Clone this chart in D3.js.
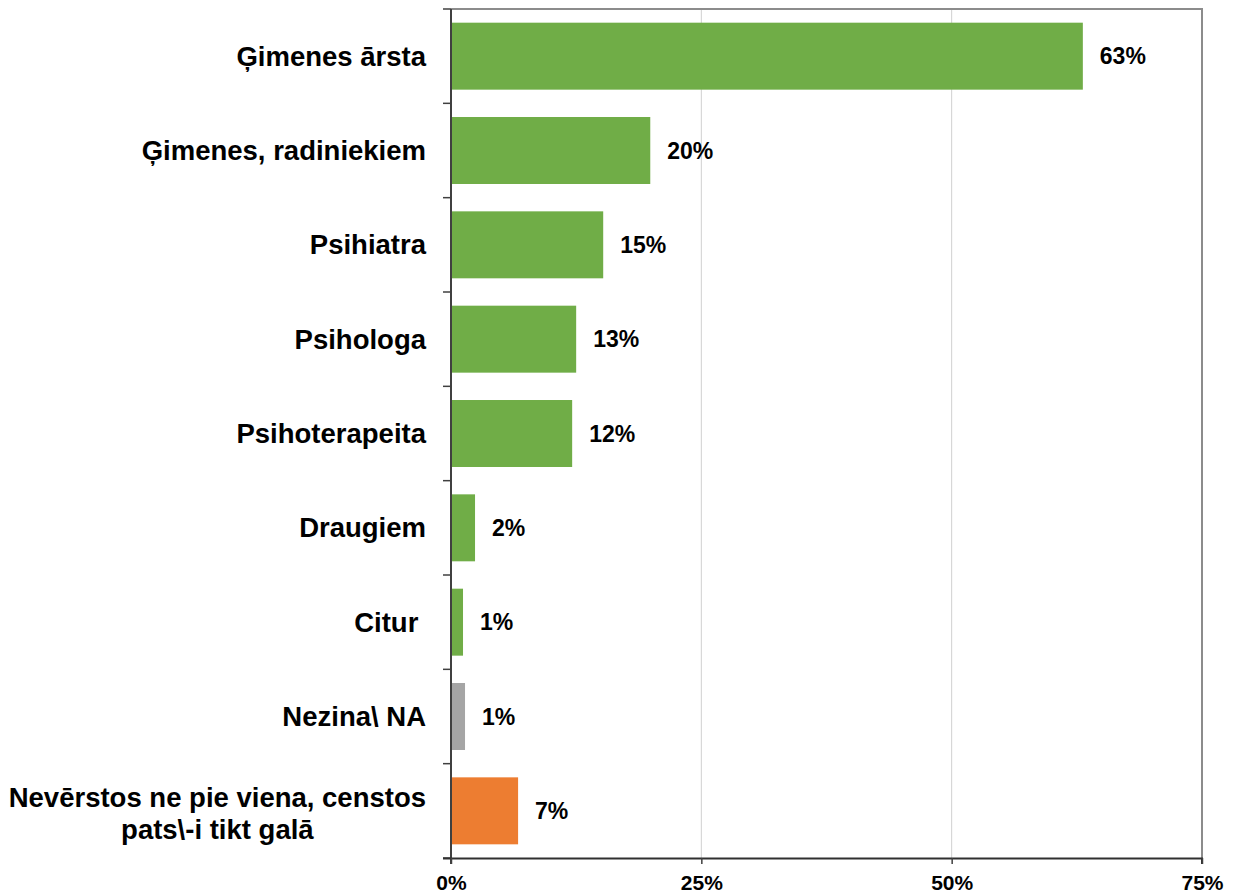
<!DOCTYPE html>
<html><head><meta charset="utf-8">
<script src="https://cdn.jsdelivr.net/npm/d3@7"></script>
<style>body{margin:0;background:#fff;} text{font-family:"Liberation Sans",Arial,sans-serif;font-weight:bold;fill:#000;}</style>
</head><body>
<svg id="chart" width="1234" height="896"></svg>
<script>
const categories = ["Ģimenes ārsta","Ģimenes, radiniekiem","Psihiatra","Psihologa","Psihoterapeita","Draugiem","Citur ","Nezina\\ NA","Nevērstos ne pie viena, censtos|pats\\-i tikt galā"];
const values = [63.1, 19.9, 15.2, 12.5, 12.1, 2.4, 1.2, 1.4, 6.7];
const valueLabels = ["63%","20%","15%","13%","12%","2%","1%","1%","7%"];
const barColors = ["#70AD47","#70AD47","#70AD47","#70AD47","#70AD47","#70AD47","#70AD47","#A5A5A5","#ED7D31"];
const xTicks = [0, 25, 50, 75];

const svg = d3.select("#chart");
const L = 451, R = 1202, T = 9, B = 858;
const x = d3.scaleLinear().domain([0, 75]).range([L, R]);
const y = d3.scaleBand().domain(categories).range([T, B]).paddingInner(0.29).paddingOuter(0.145);

// gridlines
svg.append("g").selectAll("line").data(xTicks.slice(1, 3)).join("line")
  .attr("x1", d => x(d)).attr("x2", d => x(d)).attr("y1", T).attr("y2", B)
  .attr("stroke", "#d0d0d0").attr("stroke-width", 1);
// top & right border
svg.append("path").attr("d", `M${L},${T}H${R}V${B}`).attr("fill", "none").attr("stroke", "#8c8c8c").attr("stroke-width", 2);

// bars
svg.append("g").selectAll("rect").data(categories).join("rect")
  .attr("x", x(0)).attr("y", d => y(d))
  .attr("width", (d, i) => x(values[i]) - x(0)).attr("height", y.bandwidth())
  .attr("fill", (d, i) => barColors[i]);

// value labels
svg.append("g").selectAll("text").data(categories).join("text")
  .attr("x", (d, i) => x(values[i]) + 17).attr("y", d => y(d) + y.bandwidth() / 2)
  .attr("dy", "0.35em").attr("font-size", 23).text((d, i) => valueLabels[i]);

// left axis with ticks at band boundaries
svg.append("line").attr("x1", L).attr("x2", L).attr("y1", T).attr("y2", B + 6).attr("stroke", "#404040").attr("stroke-width", 2);
const bounds = d3.range(categories.length + 1).map(i => T + i * (B - T) / categories.length);
svg.append("g").selectAll("line").data(bounds).join("line")
  .attr("x1", L - 8).attr("x2", L).attr("y1", d => d).attr("y2", d => d)
  .attr("stroke", "#404040").attr("stroke-width", 1.5);

// bottom axis
const xAxis = d3.axisBottom(x).tickValues(xTicks).tickFormat(d => d + "%").tickSize(6).tickPadding(11);
const gx = svg.append("g").attr("transform", `translate(0,${B})`).call(xAxis);
gx.select(".domain").attr("stroke", "#303030").attr("stroke-width", 2).attr("d", `M${L - 8},0.5H${R}V6`);
gx.selectAll(".tick line").attr("stroke", "#404040").attr("stroke-width", 1.5);
gx.selectAll(".tick text").attr("font-size", 21).attr("font-family", "Liberation Sans, Arial, sans-serif").attr("font-weight", "bold").attr("fill", "#000");

// category labels
const lab = svg.append("g").selectAll("text").data(categories).join("text")
  .attr("font-size", 27.5)
  .style("white-space", "pre");
lab.each(function(d) {
  const lines = d.split("|");
  const cy = y(d) + y.bandwidth() / 2 + (lines.length > 1 ? 3 : 0);
  const lh = 32;
  const el = d3.select(this);
  let center = 426;
  lines.forEach((ln, k) => {
    const ts = el.append("tspan")
      .attr("y", cy + (k - (lines.length - 1) / 2) * lh).attr("dy", "0.35em").text(ln);
    if (k === 0) {
      ts.attr("x", 426).attr("text-anchor", "end");
      center = 426 - ts.node().getComputedTextLength() / 2;
    } else {
      ts.attr("x", center).attr("text-anchor", "middle");
    }
  });
});
</script>
</body></html>
